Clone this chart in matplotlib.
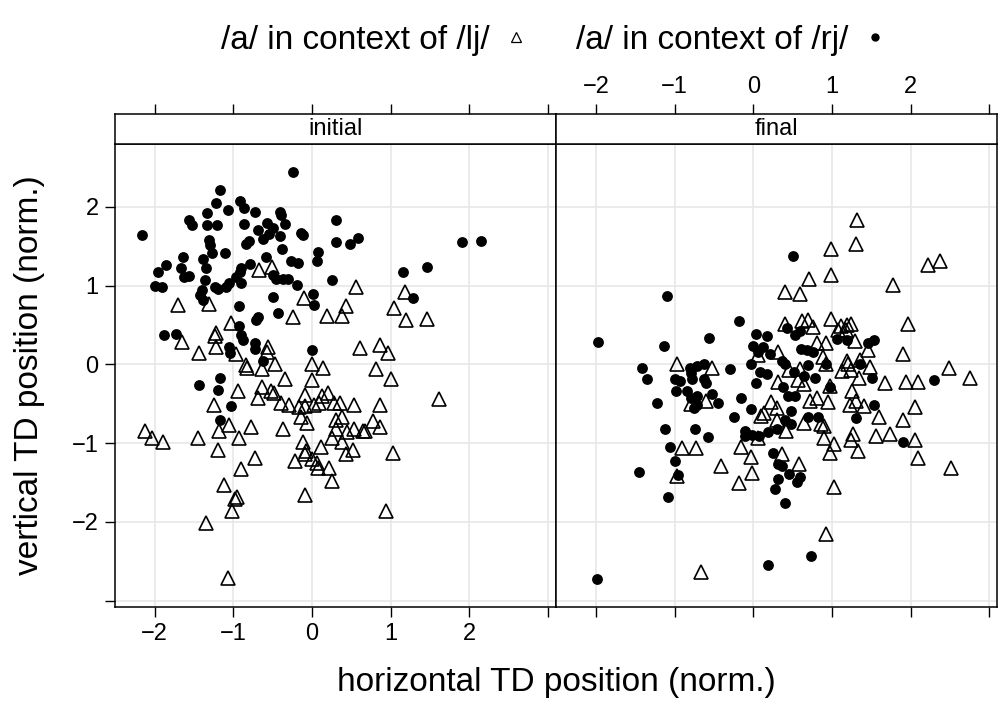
import numpy as np
import matplotlib
matplotlib.use("Agg")
import matplotlib.pyplot as plt
from matplotlib.lines import Line2D

plt.rcParams['font.family'] = ['Liberation Sans', 'DejaVu Sans']

# panel "initial": /a/ in context of /rj/ (filled dots)
init_rj_x = [-0.245, -1.175, -0.92, -1.226, -0.87, -1.066, -1.33, -0.72, -0.41, -0.39, -1.56, -1.53, -1.33, -1.21, -0.87,
             -0.575, -0.34, 0.30, -2.165, -0.69, -0.49, -0.54, -0.41, -0.62, -0.135, -0.11, 0.30, -1.31, -1.30, -0.795,
             -0.84, -0.38, 0.076, 0.07, -1.10, -1.27, -1.38, -1.64, -0.58, -0.27, -0.18, -0.79, -1.86, -1.67, -1.35,
             -1.96, -0.905, -0.92, -1.63, -1.56, -0.96, -0.50, -0.46, -0.37, -0.30, 0.25, -1.36, -0.905, -1.05, -1.09,
             -1.235, -1.19, -0.195, -2.0, -1.91, -1.40, -1.42, -1.38, -0.49, 0.01, 0.02, -0.93, -0.43, -0.68, -0.71,
             -0.93, -1.88, -1.73, -0.905, -0.88, -0.72, -0.73, -1.05, -1.04, -0.62, 0.0, -1.17,
             0.49, 0.59, 1.91, 2.15, 1.16, 1.46, 1.29,
             -1.44, -1.19, -1.03, -1.17]
init_rj_y = [2.45, 2.21, 2.08, 2.05, 1.99, 1.96, 1.92, 1.94, 1.94, 1.90, 1.84, 1.77, 1.77, 1.77, 1.78,
             1.80, 1.79, 1.84, 1.64, 1.71, 1.73, 1.66, 1.63, 1.59, 1.67, 1.64, 1.56, 1.58, 1.52, 1.57,
             1.53, 1.47, 1.43, 1.32, 1.42, 1.41, 1.34, 1.37, 1.37, 1.32, 1.29, 1.28, 1.26, 1.22, 1.22,
             1.18, 1.22, 1.18, 1.11, 1.12, 1.11, 1.13, 1.09, 1.09, 1.09, 1.07, 1.07, 1.04, 1.03, 0.99,
             0.99, 0.96, 1.01, 1.0, 0.99, 0.94, 0.88, 0.82, 0.86, 0.89, 0.75, 0.74, 0.65, 0.60, 0.56,
             0.49, 0.38, 0.39, 0.38, 0.31, 0.27, 0.20, 0.22, 0.14, 0.05, 0.19, -0.17,
             1.53, 1.61, 1.55, 1.57, 1.18, 1.24, 0.84,
             -0.26, -0.32, -0.53, -0.70]

# panel "initial": /a/ in context of /lj/ (open triangles)
init_lj_x = [-0.67, -0.51, -1.70, -1.31, -0.10, -0.245, 0.19, -1.03, -1.22, -1.23, -1.65, -1.44, -1.225, -0.97, -0.56,
             -0.575, -0.47, -0.84, -0.83, -0.64, 0.0, 0.14, -0.34, 0.0,
             0.56, 1.18, 0.43, 1.04, 0.38, 1.19, 1.46, 0.61, 0.87, 0.97, 0.82, 1.0,
             -0.94, -0.64, -0.52, -0.48, -0.69, -1.24, -0.085, -0.39, -0.29, -0.16, -0.085, 0.02, 0.09, 0.21,
             0.13, 0.28, -0.135, -0.06, 0.30, -1.06, -0.77, -0.37, -2.12, -2.03, -1.89, -1.45, -1.18, -0.93,
             -1.19, -0.72, -0.90, -0.11, -0.08, -0.09, 0.11, -0.21, 0.0, 0.06, 0.08, 0.22, 0.25, 0.26, 0.31,
             -1.12, -0.95, -0.98, -1.01, -0.085, -1.35, -1.07,
             0.36, 0.53, 0.87, 1.61, 0.38, 0.44, 0.53, 0.65, 0.78, 0.86, 0.68, 0.38, 0.52, 0.43, 1.03, 0.94]
init_lj_y = [1.20, 1.24, 0.75, 0.77, 0.85, 0.60, 0.62, 0.53, 0.40, 0.36, 0.29, 0.14, 0.22, 0.13, 0.22,
             0.16, 0.01, -0.01, -0.04, -0.06, 0.01, -0.05, -0.18, -0.20,
             0.98, 0.92, 0.74, 0.72, 0.61, 0.56, 0.58, 0.21, 0.25, 0.14, -0.06, -0.18,
             -0.34, -0.29, -0.34, -0.36, -0.43, -0.51, -0.39, -0.49, -0.51, -0.54, -0.53, -0.51, -0.49, -0.36,
             -0.40, -0.49, -0.67, -0.74, -0.70, -0.77, -0.80, -0.82, -0.85, -0.93, -0.99, -0.94, -0.85, -0.94,
             -1.08, -1.19, -1.33, -0.99, -1.10, -1.14, -1.05, -1.22, -1.20, -1.25, -1.31, -1.32, -0.93, -1.48, -0.82,
             -1.53, -1.68, -1.71, -1.86, -1.66, -2.01, -2.71,
             -0.49, -0.51, -0.51, -0.44, -0.67, -0.86, -0.82, -0.84, -0.72, -0.79, -0.84, -0.99, -1.08, -1.14, -1.12, -1.86]

# panel "final": /rj/
final_rj_x = [-1.10, -1.97, -1.13, -0.56, -0.18, 0.03, 0.18, 0.0, 0.12, 0.06, 0.21, -1.42, -0.30, -0.03, -0.80,
              -0.71, -0.63, -0.79, 0.09, 0.18, -1.35, -1.0, -0.63,
              0.51, 0.43, 0.535, 0.60, 1.06, 1.19, 1.46, 1.53, 0.61, 0.68, 0.76, 0.36, 0.41, 0.70, 0.93, 1.36,
              0.52, 0.65, 0.78, 1.51, 2.30,
              -0.93, -0.78, -0.60, 0.04, -0.985, -0.84, -0.72, -0.79, -0.52, -0.45, -1.22, -0.75, -0.71, -0.15,
              -0.03, -0.245, -1.125, -0.74, -0.575, -0.11, -0.10, -0.01, 0.07, 0.19, 0.30, -1.06, 0.245, 0.31,
              -1.0, -1.45, -0.96, 0.31, 0.28, -1.08, 0.19, -1.99,
              0.38, 0.44, 0.53, 0.97, 1.54, 0.48, 0.70, 0.82, 0.40, 0.48, 1.31, 1.91, 0.36, 0.45, 0.59, 0.55,
              0.41, 0.74]
final_rj_y = [0.875, 0.28, 0.24, 0.33, 0.55, 0.39, 0.36, 0.23, 0.22, 0.16, 0.13, -0.04, -0.06, 0.0, -0.05,
              -0.02, 0.0, -0.11, -0.09, -0.12, -0.19, -0.19, -0.19,
              1.38, 0.46, 0.37, 0.43, 0.32, 0.31, 0.27, 0.31, 0.20, 0.18, 0.16, 0.05, 0.01, -0.01, 0.01, 0.01,
              -0.09, -0.15, -0.17, -0.17, -0.20,
              -0.21, -0.18, -0.23, -0.24, -0.34, -0.34, -0.40, -0.43, -0.37, -0.49, -0.49, -0.55, -0.51, -0.42,
              -0.56, -0.67, -0.82, -0.82, -0.92, -0.85, -0.91, -0.89, -0.91, -0.86, -0.82, -1.05, -1.12, -1.26,
              -1.23, -1.37, -1.40, -1.46, -1.58, -1.68, -2.55, -2.72,
              -0.29, -0.40, -0.40, -0.29, -0.51, -0.59, -0.67, -0.67, -0.71, -0.75, -0.68, -0.98, -1.29, -1.39,
              -1.43, -1.49, -1.76, -2.43]

# panel "final": /lj/
final_lj_x = [-0.97, -0.52, 0.06,
              1.32, 1.30, 0.99, 0.99, 0.71, 0.41, 0.60, 1.78, 2.22, 2.37, 0.40, 0.62, 0.69, 0.76, 0.99, 1.12,
              1.19, 1.24, 1.08, 1.18, 1.29, 1.97, 0.81, 0.92, 1.46, 0.32, 1.90, 0.89, 0.93, 1.19, 1.21, 1.36,
              1.48, 0.46, 0.59, 1.13, 1.24, 2.49, 2.76, 1.34, 1.94, 2.09, 0.31, 1.68,
              -0.60, -0.79, 0.23, 0.30, 0.10, 0.14, 0.30, 0.06, -0.90, -0.73, -0.15, -0.03, -0.41, -0.02, -0.18,
              -0.97, -0.67,
              0.57, 0.64, 0.98, 1.26, 0.72, 0.81, 0.95, 1.23, 1.30, 1.41, 2.06, 0.65, 0.86, 0.90, 0.42, 1.60,
              1.91, 0.90, 1.03, 1.27, 1.24, 1.56, 1.74, 2.06, 0.97, 1.33, 0.37, 0.58, 2.10, 2.51, 1.03, 0.92]
final_lj_y = [0.01, -0.05, 0.12,
              1.84, 1.53, 1.47, 1.13, 1.08, 0.92, 0.89, 1.01, 1.26, 1.31, 0.52, 0.55, 0.56, 0.48, 0.58, 0.49,
              0.50, 0.52, 0.44, 0.44, 0.30, 0.51, 0.27, 0.27, 0.19, 0.16, 0.13, 0.10, 0.01, 0.05, 0.01, 0.06,
              -0.03, -0.07, -0.06, -0.08, -0.07, -0.04, -0.17, -0.17, -0.22, -0.22, -0.22, -0.24,
              -0.46, -0.50, -0.48, -0.55, -0.65, -0.61, -0.71, -0.93, -1.06, -1.06, -1.05, -1.17, -1.29, -1.38, -1.51,
              -1.41, -2.63,
              -0.20, -0.25, -0.27, -0.34, -0.46, -0.42, -0.48, -0.51, -0.47, -0.53, -0.54, -0.74, -0.76, -0.78,
              -0.84, -0.67, -0.71, -0.93, -1.01, -0.88, -0.96, -0.91, -0.88, -0.96, -1.12, -1.10, -1.14, -1.27,
              -1.19, -1.32, -1.56, -2.15]

panels = ["initial", "final"]
legend_labels = ["/a/ in context of /lj/", "/a/ in context of /rj/"]
x_ticks = [-2, -1, 0, 1, 2, 3]
y_ticks = [-3, -2, -1, 0, 1, 2]
MINUS = "\u2212"


def lab(v, show):
    if v not in show:
        return ""
    return (MINUS + str(-v)) if v < 0 else str(v)


W, H = 999, 706
fig = plt.figure(figsize=(W / 100, H / 100), dpi=100)

xlim = (-2.51, 3.10)
ylim = (-3.08, 2.80)
p_left = [114.5, 555.8]
p_w = 441.3
p_top, p_bot, s_top = 144, 607, 113.6

data = {"initial": (init_lj_x, init_lj_y, init_rj_x, init_rj_y),
        "final": (final_lj_x, final_lj_y, final_rj_x, final_rj_y)}

tick_kw = dict(direction="out", length=7.5, width=1.0, colors="black", labelsize=17, pad=4)

for i, name in enumerate(panels):
    ax = fig.add_axes([p_left[i] / W, 1 - p_bot / H, p_w / W, (p_bot - p_top) / H])
    lx, ly, rx, ry = data[name]
    ax.plot(lx, ly, ls="none", marker="^", ms=10, mfc="none", mec="black", mew=1.2, zorder=3)
    ax.plot(rx, ry, ls="none", marker="o", ms=7.8, mfc="black", mec="black", mew=0, zorder=4)
    ax.set_xlim(xlim)
    ax.set_ylim(ylim)
    ax.set_xticks(x_ticks)
    ax.set_yticks(y_ticks)
    ax.grid(True, color="#e6e6e6", lw=1.1)
    ax.set_axisbelow(True)
    for sp in ax.spines.values():
        sp.set_linewidth(1.1)
    ax.tick_params(axis="both", **tick_kw)
    if i == 0:
        ax.set_xticklabels([lab(v, [-2, -1, 0, 1, 2]) for v in x_ticks])
        ax.set_yticklabels([lab(v, [-2, -1, 0, 1, 2]) for v in y_ticks])
    else:
        ax.set_xticklabels([])
        ax.tick_params(axis="y", left=False, labelleft=False)

    # strip with panel name, top axis ticks sit above it
    st = fig.add_axes([p_left[i] / W, 1 - p_top / H, p_w / W, (p_top - s_top) / H])
    st.set_xlim(xlim)
    st.set_yticks([])
    st.set_xticks(x_ticks)
    st.xaxis.tick_top()
    st.tick_params(axis="x", **tick_kw)
    if i == 1:
        st.set_xticklabels([lab(v, [-2, -1, 0, 1, 2]) for v in x_ticks])
    else:
        st.set_xticklabels([])
    for sp in st.spines.values():
        sp.set_linewidth(1.1)
    st.text(0.5, 0.5, name, transform=st.transAxes, ha="center", va="center", fontsize=17)

fig.text(556 / W, 1 - 683 / H, "horizontal TD position (norm.)", ha="center", va="center", fontsize=24)
fig.text(30 / W, 1 - 375 / H, "vertical TD position (norm.)", ha="center", va="center",
         rotation=90, fontsize=24)

handles = [Line2D([], [], ls="none", marker="^", ms=7, mfc="none", mec="black", mew=0.9),
           Line2D([], [], ls="none", marker="o", ms=6, mfc="black", mec="black", mew=0)]
fig.legend(handles, legend_labels, ncol=2, markerfirst=False, frameon=False, fontsize=24,
           loc="center", bbox_to_anchor=(556 / W, 1 - 40 / H), handlelength=1.0,
           handletextpad=0.3, columnspacing=1.3, borderpad=0)

fig.savefig("out.png", dpi=100)
